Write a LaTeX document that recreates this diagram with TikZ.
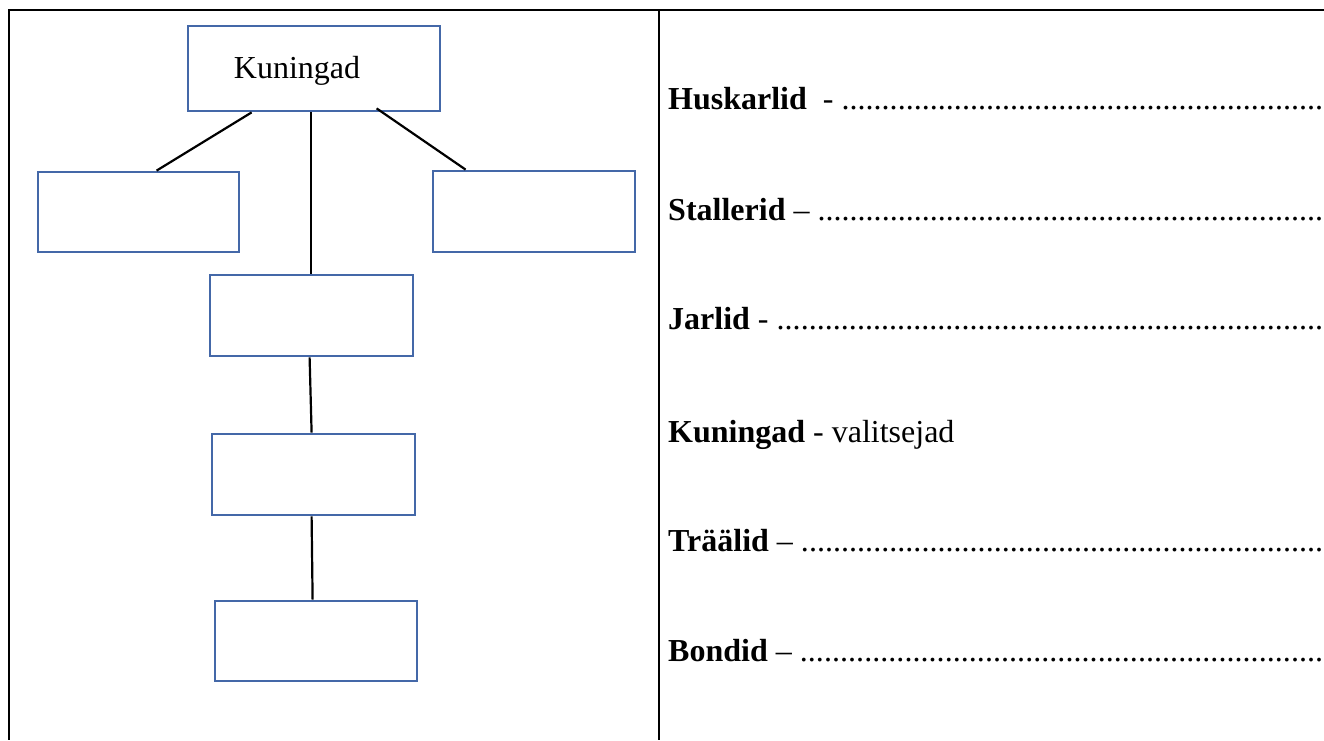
\documentclass[tikz,border=0pt]{standalone}
\usepackage{fontspec}
\setmainfont{Liberation Serif}
\definecolor{boxblue}{RGB}{68,104,168}
\tikzset{
  orgbox/.style={draw=boxblue, line width=2.8pt, rectangle, inner sep=0pt, fill=white},
  conn/.style={draw=black, line width=2.2pt},
  frame/.style={draw=black, line width=2.4pt},
  deftext/.style={anchor=base west, inner sep=0pt, font=\fontsize{32}{38}\selectfont},
}
\newcommand\dotline[1]{\hbox to 655pt{#1\xleaders\hbox{.}\hfill}}
\begin{document}
\begin{tikzpicture}[x=1pt,y=-1pt]
\useasboundingbox (0,0) rectangle (1324,740);
\clip (0,0) rectangle (1324,740);
% table frame
\coordinate (tl) at (9,10);
\coordinate (tr) at (1324,10);
\coordinate (bl) at (9,740);
\coordinate (dt) at (659,10);
\coordinate (db) at (659,740);
\draw[frame] (tr) -- (tl) -- (bl);
\draw[frame] (dt) -- (db);

% boxes
\node[orgbox, minimum width=252pt, minimum height=85pt] (k) at (314,68.5) {};
\node[anchor=base, inner sep=0pt, font=\fontsize{32}{38}\selectfont] (ktext) at (297,78) {Kuningad};
\node[orgbox, minimum width=201pt, minimum height=80pt] (l) at (138.5,212) {};
\node[orgbox, minimum width=202pt, minimum height=81pt] (r) at (534,211.5) {};
\node[orgbox, minimum width=203pt, minimum height=81pt] (m1) at (311.5,315.5) {};
\node[orgbox, minimum width=203pt, minimum height=81pt] (m2) at (313.5,474.5) {};
\node[orgbox, minimum width=202pt, minimum height=80pt] (m3) at (316,641) {};

% connectors
\draw[conn] ([xshift=65pt]k.south west) -- ([xshift=120pt]l.north west);
\draw[conn] ([xshift=124pt]k.south west) -- ([xshift=102pt]m1.north west);
\draw[conn] ([xshift=190pt,yshift=4pt]k.south west) -- ([xshift=34pt]r.north west);
\draw[conn] ([xshift=101pt]m1.south west) -- ([xshift=101pt]m2.north west);
\draw[conn] ([xshift=101pt]m2.south west) -- ([xshift=99pt]m3.north west);

% right column
\node[deftext] (t1) at (668,109) {\dotline{\textbf{Huskarlid}~~- }};
\node[deftext] (t2) at (668,220) {\dotline{\textbf{Stallerid} – }};
\node[deftext] (t3) at (668,329) {\dotline{\textbf{Jarlid} - }};
\node[deftext] (t4) at (668,442) {\textbf{Kuningad} - valitsejad};
\node[deftext] (t5) at (668,551) {\dotline{\textbf{Träälid} – }};
\node[deftext] (t6) at (668,661) {\dotline{\textbf{Bondid} – }};
\end{tikzpicture}
\end{document}
